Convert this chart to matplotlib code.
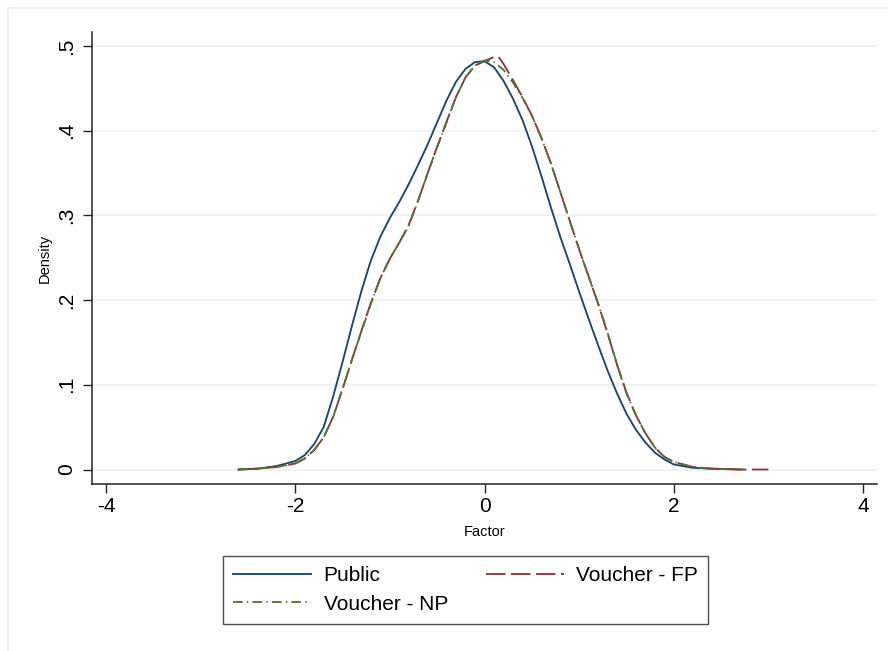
import matplotlib
matplotlib.use('Agg')
import matplotlib.pyplot as plt
from matplotlib.patches import Rectangle

plt.rcParams['font.family'] = ['Liberation Sans', 'DejaVu Sans']
plt.rcParams['axes.unicode_minus'] = False
plt.rcParams['lines.scale_dashes'] = False

# kernel density estimates of the factor score, by school type
public_x = [-2.6, -2.4, -2.2, -2.0, -1.9, -1.8, -1.7, -1.6, -1.5, -1.4, -1.3,
            -1.2, -1.1, -1.0, -0.9, -0.8, -0.7, -0.6, -0.5, -0.4, -0.3, -0.2,
            -0.1, 0.0, 0.1, 0.2, 0.3, 0.4, 0.5, 0.6, 0.7, 0.8, 0.9, 1.0, 1.1,
            1.2, 1.3, 1.4, 1.5, 1.6, 1.7, 1.8, 1.9, 2.0, 2.2, 2.4, 2.7]
public_y = [0.000, 0.001, 0.004, 0.010, 0.017, 0.030, 0.050, 0.086, 0.127,
            0.170, 0.211, 0.247, 0.275, 0.297, 0.316, 0.337, 0.360, 0.384,
            0.410, 0.436, 0.458, 0.473, 0.481, 0.482, 0.475, 0.459, 0.438,
            0.413, 0.382, 0.347, 0.310, 0.275, 0.243, 0.210, 0.178, 0.147,
            0.117, 0.090, 0.066, 0.047, 0.032, 0.020, 0.012, 0.006, 0.002,
            0.001, 0.000]

fp_x = [-2.6, -2.4, -2.2, -2.0, -1.9, -1.8, -1.7, -1.6, -1.5, -1.4, -1.3,
        -1.2, -1.1, -1.0, -0.9, -0.8, -0.7, -0.6, -0.5, -0.4, -0.3, -0.2,
        -0.1, 0.0, 0.1, 0.15, 0.2, 0.3, 0.4, 0.5, 0.6, 0.7, 0.8, 0.9, 1.0,
        1.1, 1.2, 1.3, 1.4, 1.5, 1.6, 1.7, 1.8, 1.9, 2.0, 2.2, 2.4, 2.7, 3.0]
fp_y = [0.000, 0.001, 0.003, 0.007, 0.013, 0.023, 0.038, 0.062, 0.095,
        0.130, 0.164, 0.197, 0.226, 0.249, 0.268, 0.289, 0.318, 0.350,
        0.381, 0.411, 0.440, 0.463, 0.477, 0.482, 0.487, 0.487, 0.479,
        0.460, 0.440, 0.418, 0.392, 0.362, 0.328, 0.294, 0.260, 0.228,
        0.196, 0.161, 0.124, 0.091, 0.064, 0.043, 0.026, 0.015, 0.009,
        0.003, 0.001, 0.000, 0.000]

np_x = [-2.6, -2.4, -2.2, -2.0, -1.9, -1.8, -1.7, -1.6, -1.5, -1.4, -1.3,
        -1.2, -1.1, -1.0, -0.9, -0.8, -0.7, -0.6, -0.5, -0.4, -0.3, -0.2,
        -0.1, 0.0, 0.1, 0.2, 0.3, 0.4, 0.5, 0.6, 0.7, 0.8, 0.9, 1.0, 1.1,
        1.2, 1.3, 1.4, 1.5, 1.6, 1.7, 1.8, 1.9, 2.0, 2.2, 2.4, 2.73]
np_y = [0.000, 0.001, 0.003, 0.007, 0.013, 0.023, 0.038, 0.062, 0.095,
        0.130, 0.163, 0.196, 0.226, 0.249, 0.268, 0.288, 0.318, 0.350,
        0.381, 0.410, 0.440, 0.463, 0.477, 0.483, 0.481, 0.472, 0.457,
        0.439, 0.418, 0.392, 0.362, 0.328, 0.294, 0.260, 0.228, 0.196,
        0.162, 0.124, 0.090, 0.064, 0.043, 0.026, 0.015, 0.009, 0.003,
        0.001, 0.000]

x_ticks = [-4, -2, 0, 2, 4]
x_labels = ['-4', '-2', '0', '2', '4']
y_ticks = [0, 0.1, 0.2, 0.3, 0.4, 0.5]
y_labels = ['0', '.1', '.2', '.3', '.4', '.5']

navy = '#1a476f'
maroon = '#90353b'
green = '#55752f'
grid_color = '#eaf2f3'

W, H = 888, 651
fig = plt.figure(figsize=(W / 100, H / 100), dpi=100)
fig.patch.set_facecolor('white')

# faint outer frame of the graph region
fig.patches.append(Rectangle((8 / W, -0.1), 1.2, 1.1 - 8 / H,
                             transform=fig.transFigure, fill=False,
                             edgecolor=grid_color, linewidth=1.2))

ax = fig.add_axes([92 / W, 1 - 484 / H, (877 - 92) / W, (484 - 32) / H])
ax.set_facecolor('white')

l_pub, = ax.plot(public_x, public_y, color=navy, linewidth=1.35,
                 label='Public', zorder=3)
l_fp, = ax.plot(fp_x, fp_y, color=maroon, linewidth=1.35,
                dashes=(14, 4), label='Voucher - FP', zorder=3)
l_np, = ax.plot(np_x, np_y, color=green, linewidth=1.35,
                dashes=(7, 3, 1, 3), label='Voucher - NP', zorder=4)

ax.set_xlim(-4.148, 4.148)
ax.set_ylim(-0.0171, 0.5165)
ax.set_xticks(x_ticks)
ax.set_xticklabels(x_labels)
ax.set_yticks(y_ticks)
ax.set_yticklabels(y_labels, rotation=90, va='center')

for y in y_ticks:
    ax.axhline(y, color=grid_color, linewidth=1.3, zorder=1)

ax.spines['top'].set_visible(False)
ax.spines['right'].set_visible(False)
for side in ['left', 'bottom']:
    ax.spines[side].set_linewidth(1.1)
    ax.spines[side].set_color('#222222')

ax.tick_params(axis='both', direction='out', length=6.5, width=1.0,
               color='#222222', labelsize=15)
ax.tick_params(axis='x', pad=3)
ax.tick_params(axis='y', pad=5)

ax.set_xlabel('Factor', fontsize=10.5, labelpad=6)
ax.set_ylabel('Density', fontsize=10.5, labelpad=4)

leg = fig.legend([l_pub, l_np, l_fp],
                 ['Public', 'Voucher - NP', 'Voucher - FP'],
                 loc='center', bbox_to_anchor=(465.5 / W, 1 - 590 / H),
                 ncol=2, fontsize=15, handlelength=3.75, handletextpad=0.6,
                 columnspacing=1.8, labelspacing=0.45, borderpad=0.5,
                 fancybox=False, frameon=True)
leg.get_frame().set_edgecolor('#222222')
leg.get_frame().set_linewidth(1.0)

fig.savefig('out.png', dpi=100)
